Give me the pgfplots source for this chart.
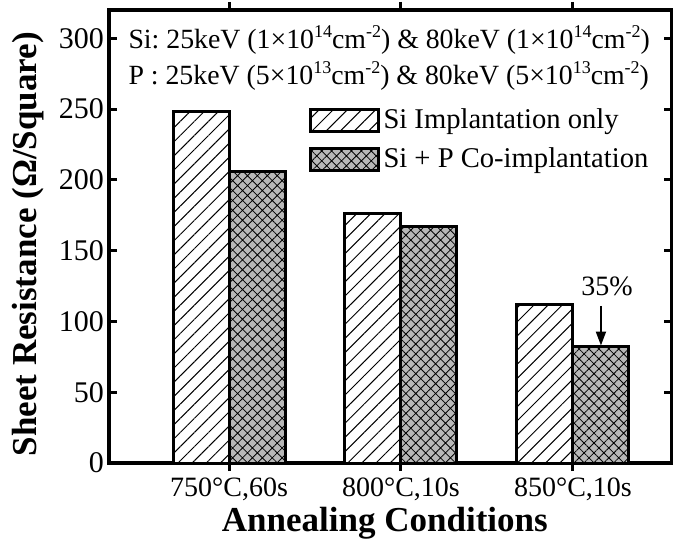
\documentclass[border=0pt]{standalone}
\usepackage{fontspec}
\setmainfont{Liberation Serif}
\usepackage{pgfplots}
\pgfplotsset{compat=1.18}
\usetikzlibrary{patterns.meta,arrows.meta,calc}

\newcommand{\txt}{\fontsize{14}{16}\selectfont}
\newcommand{\ytxt}{\fontsize{15}{17}\selectfont}
\newcommand{\ann}{\frenchspacing\fontsize{13.9}{16}\selectfont}
\newcommand{\lbl}{\bfseries\fontsize{17.5}{20}\selectfont}
\newcommand{\supr}[1]{\raisebox{0.85ex}{\fontsize{9}{10}\selectfont #1}}

\begin{document}
\begin{tikzpicture}
\begin{axis}[
  scale only axis,
  width=281.5pt, height=226.5pt,
  ybar=0pt, bar width=28pt,
  xmin=-0.698, xmax=2.576,
  ymin=0, ymax=320,
  xtick={0,1,2},
  xticklabels={{750°C,60s},{800°C,10s},{850°C,10s}},
  ytick={0,50,...,300},
  axis line style={line width=2pt},
  major tick style={line width=1.5pt, black},
  major tick length=4pt,
  xticklabel style={font=\txt},
  yticklabel style={font=\ytxt, xshift=1pt},
  /pgf/number format/assume math mode=true,
  xlabel={Annealing Conditions},
  ylabel={Sheet Resistance (Ω/Square)},
  xlabel style={at={(axis description cs:0.49,-0.132)}, anchor=center, font=\lbl},
  ylabel style={at={(axis description cs:-0.144,0.483)}, anchor=center, font=\lbl},
  legend image code/.code={\draw[#1] (0pt,-5.5pt) rectangle (34pt,5.5pt);},
  legend cell align=left,
  legend style={draw=none, fill=none, at={(rel axis cs:0.343,0.80)}, anchor=north west,
    font=\fontsize{14.3}{16}\selectfont, row sep=4pt,
    nodes={inner xsep=2pt}},
]
% Si only: single hatch on white
\addplot[draw=black, line width=1.5pt, fill=white,
  postaction={pattern={Lines[angle=45,distance=5pt,line width=0.5pt]}}]
  coordinates {(0,248) (1,176) (2,112)};
% Si + P: cross hatch on grey
\addplot[draw=black, line width=1.5pt, fill=black!28,
  postaction={pattern={Hatch[angle=45,distance=3.5pt,line width=0.4pt]}}]
  coordinates {(0,206) (1,167) (2,82)};
\legend{Si Implantation only, Si + P Co-implantation}

% implantation conditions
\node[anchor=west, font=\ann, inner sep=0pt] at (rel axis cs:0.034,0.934)
  {Si: 25keV (1×10\supr{14}cm\supr{-2}) \& 80keV (1×10\supr{14}cm\supr{-2})};
\node[anchor=west, font=\ann, inner sep=0pt] at (rel axis cs:0.034,0.854)
  {P : 25keV (5×10\supr{13}cm\supr{-2}) \& 80keV (5×10\supr{13}cm\supr{-2})};

% reduction marker on the 850 C pair
\draw[line width=1pt, -{Triangle[length=7pt,width=5pt]}]
  ([xshift=14pt]axis cs:2,111) -- ([xshift=14pt]axis cs:2,83);
\node[font=\txt] at ([xshift=17pt]axis cs:2,125) {35\%};

\coordinate (O) at (rel axis cs:0,0);
\end{axis}
\pgfresetboundingbox
\path[use as bounding box] ($(O)+(-54.5pt,-39.5pt)$) rectangle ($(O)+(282pt,231.5pt)$);
\end{tikzpicture}
\end{document}
